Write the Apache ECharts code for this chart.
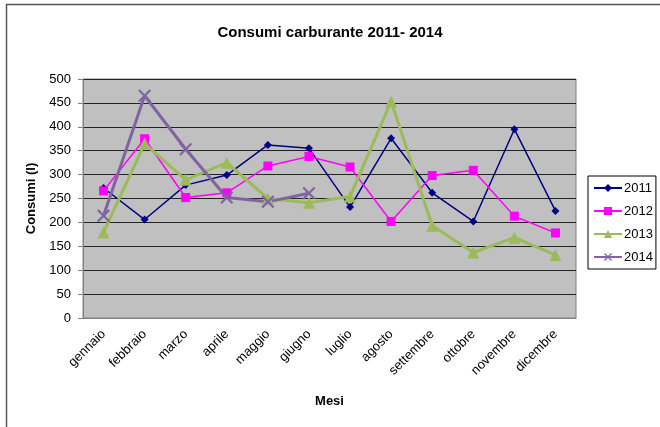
<!DOCTYPE html>
<html><head><meta charset="utf-8">
<script src="https://cdn.jsdelivr.net/npm/echarts@6/dist/echarts.min.js"></script>
<style>html,body{margin:0;padding:0;background:#fff}#c{width:660px;height:427px}</style>
</head><body><div id="c"></div>
<script>
const months = ['gennaio','febbraio','marzo','aprile','maggio','giugno','luglio','agosto','settembre','ottobre','novembre','dicembre'];
const s2011 = [272, 206, 278, 299, 362, 355, 232, 376, 262, 202, 395, 224];
const s2012 = [266, 375, 252, 262, 318, 338, 316, 202, 298, 309, 213, 178];
const s2013 = [179, 365, 289, 325, 250, 241, 254, 453, 193, 137, 168, 132];
const s2014 = [214, 465, 353, 252, 243, 261, null, null, null, null, null, null];
const yTicks = {min: 0, max: 500, interval: 50};

const FONT = 'Liberation Sans, Arial, sans-serif';
const xMark = 'path://M0,1.2L1.2,0L5,3.8L8.8,0L10,1.2L6.2,5L10,8.8L8.8,10L5,6.2L1.2,10L0,8.8L3.8,5Z';

const chart = echarts.init(document.getElementById('c'));
chart.setOption({
  animation: false,
  textStyle: {fontFamily: FONT},
  title: {text: 'Consumi carburante 2011- 2014', left: 'center', top: 20,
    textStyle: {fontFamily: FONT, fontSize: 15, fontWeight: 'bold', color: '#000'}},
  graphic: [
    {type: 'polyline', shape: {points: [[6.5, 427], [6.5, 4.5], [660, 4.5]]},
     style: {stroke: '#555', lineWidth: 1.5, fill: null}}
  ],
  grid: {left: 83, right: 84, top: 79, bottom: 109, show: true, backgroundColor: '#C0C0C0', borderColor: '#808080', borderWidth: 1},
  legend: {
    orient: 'vertical', left: 588, top: 176,
    backgroundColor: '#fff', borderColor: '#000', borderWidth: 1,
    padding: [5, 3, 5, 5], itemGap: 9, itemWidth: 28, itemHeight: 10,
    textStyle: {fontFamily: FONT, fontSize: 13, color: '#000', padding: [0, 0, 0, -3], lineHeight: 14},
    data: ['2011', '2012', '2013', '2014']
  },
  xAxis: {
    type: 'category', data: months, boundaryGap: true,
    name: 'Mesi', nameLocation: 'middle', nameGap: 77,
    nameTextStyle: {fontFamily: FONT, fontSize: 13, fontWeight: 'bold', color: '#000'},
    axisLine: {lineStyle: {color: '#808080'}},
    axisTick: {lineStyle: {color: '#808080'}, length: 5},
    axisLabel: {rotate: 45, fontFamily: FONT, fontSize: 13, color: '#000', interval: 0, margin: 14}
  },
  yAxis: {
    type: 'value', min: yTicks.min, max: yTicks.max, interval: yTicks.interval,
    name: 'Consumi (l)', nameLocation: 'middle', nameGap: 43, nameRotate: 90,
    nameTextStyle: {fontFamily: FONT, fontSize: 13, fontWeight: 'bold', color: '#000'},
    axisLine: {show: true, lineStyle: {color: '#808080'}},
    axisTick: {show: true, lineStyle: {color: '#808080'}, length: 5},
    axisLabel: {fontFamily: FONT, fontSize: 13, color: '#000', margin: 12},
    splitLine: {lineStyle: {color: '#222', width: 1}}
  },
  series: [
    {name: '2011', type: 'line', data: s2011, symbol: 'diamond', symbolSize: 8,
     lineStyle: {color: '#000080', width: 1.5}, itemStyle: {color: '#000080'}},
    {name: '2012', type: 'line', data: s2012, symbol: 'rect', symbolSize: 9,
     lineStyle: {color: '#FF00FF', width: 1.5}, itemStyle: {color: '#FF00FF'}},
    {name: '2013', type: 'line', data: s2013, symbol: 'triangle', symbolSize: 12,
     lineStyle: {color: '#9BBB59', width: 3}, itemStyle: {color: '#9BBB59'}},
    {name: '2014', type: 'line', data: s2014, symbol: xMark, symbolSize: 13,
     lineStyle: {color: '#8064A2', width: 3}, itemStyle: {color: '#8064A2'}}
  ]
});
</script></body></html>
